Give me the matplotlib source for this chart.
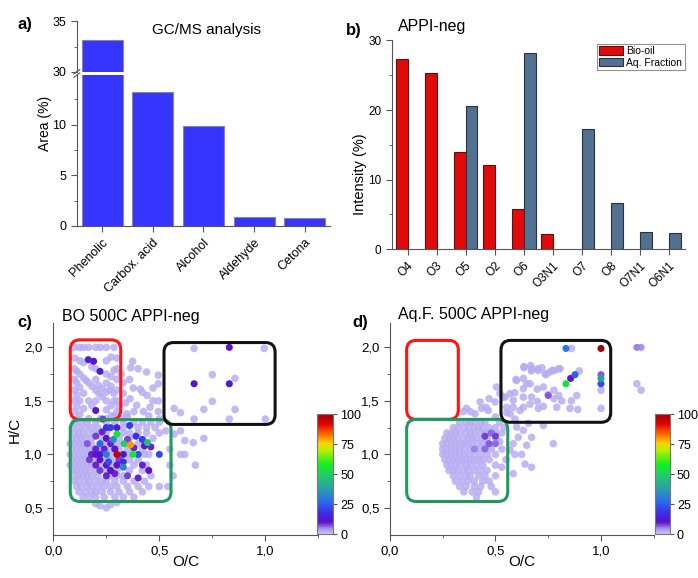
import numpy as np
import matplotlib.pyplot as plt
from matplotlib.colors import LinearSegmentedColormap, Normalize
from matplotlib.patches import FancyBboxPatch
from matplotlib.cm import ScalarMappable

plt.rcParams['font.family'] = ['Liberation Sans', 'DejaVu Sans']

# a) GC/MS
gc_groups = ['Phenolic', 'Carbox. acid', 'Alcohol', 'Aldehyde', 'Cetona']
gc_area = [33.1, 13.2, 9.9, 0.85, 0.75]

# b) APPI-neg classes
appi_classes = ['O4', 'O3', 'O5', 'O2', 'O6', 'O3N1', 'O7', 'O8', 'O7N1', 'O6N1']
bio_oil = [27.3, 25.3, 14.0, 12.1, 5.8, 2.2, 0, 0, 0, 0]
aq_fraction = [0, 0, 20.6, 0, 28.2, 0, 17.2, 6.6, 2.5, 2.3]

# c) BO 500C van Krevelen (O/C, H/C), low-intensity points
base_level = 2
bo_red_zone = [
    (0.100, 2.00), (0.125, 2.00), (0.143, 2.00), (0.167, 2.00), (0.200, 2.00), (0.222, 2.00), (0.250, 2.00), (0.286, 2.00),
    (0.100, 1.90), (0.125, 1.875), (0.143, 1.857), (0.182, 1.818), (0.250, 1.875), (0.273, 1.909), (0.300, 1.90),
    (0.100, 1.80), (0.111, 1.778), (0.125, 1.75), (0.143, 1.714), (0.154, 1.692), (0.167, 1.667), (0.182, 1.636),
    (0.200, 1.60), (0.214, 1.571), (0.231, 1.538), (0.250, 1.50),
    (0.100, 1.70), (0.111, 1.667), (0.125, 1.625), (0.143, 1.571), (0.167, 1.50), (0.182, 1.455), (0.222, 1.333),
    (0.100, 1.60), (0.111, 1.556), (0.125, 1.50), (0.143, 1.429), (0.167, 1.333),
    (0.100, 1.50), (0.111, 1.444), (0.125, 1.375), (0.100, 1.40), (0.111, 1.333),
    (0.200, 1.80), (0.250, 1.75), (0.273, 1.727), (0.300, 1.70),
    (0.200, 1.70), (0.214, 1.643), (0.231, 1.615), (0.250, 1.583), (0.267, 1.60), (0.286, 1.571), (0.300, 1.60),
    (0.250, 1.667), (0.273, 1.636), (0.286, 1.50), (0.250, 1.417), (0.273, 1.455), (0.300, 1.40), (0.250, 1.333),
    (0.286, 1.357), (0.300, 1.50), (0.200, 1.50), (0.273, 1.364), (0.286, 1.786), (0.300, 1.80),
]
bo_upper_mid = [
    (0.374, 1.87), (0.365, 1.81), (0.400, 1.80), (0.440, 1.77), (0.495, 1.74), (0.495, 1.66), (0.377, 1.62),
    (0.410, 1.61), (0.443, 1.55), (0.362, 1.52), (0.393, 1.46), (0.425, 1.40), (0.456, 1.44), (0.495, 1.50),
    (0.495, 1.40), (0.346, 1.38), (0.310, 1.45), (0.330, 1.33), (0.350, 1.35), (0.450, 1.36), (0.500, 1.33),
    (0.330, 1.67), (0.360, 1.70), (0.420, 1.58), (0.470, 1.62), (0.330, 1.57), (0.320, 1.75), (0.340, 1.48),
    (0.380, 1.40), (0.470, 1.50),
]
bo_green_zone = [
    (0.10, 1.30), (0.13, 1.30), (0.16, 1.30), (0.20, 1.30), (0.25, 1.30), (0.29, 1.30), (0.33, 1.30), (0.38, 1.30), (0.42, 1.30), (0.46, 1.30), (0.50, 1.30),
    (0.09, 1.25), (0.12, 1.25), (0.15, 1.25), (0.18, 1.25), (0.21, 1.25), (0.33, 1.25), (0.40, 1.25), (0.44, 1.25), (0.48, 1.25),
    (0.10, 1.20), (0.12, 1.20), (0.14, 1.20), (0.17, 1.20), (0.20, 1.20), (0.22, 1.20), (0.25, 1.20), (0.33, 1.20), (0.36, 1.20), (0.40, 1.20), (0.44, 1.20), (0.50, 1.20),
    (0.09, 1.15), (0.11, 1.15), (0.13, 1.15), (0.15, 1.15), (0.18, 1.15), (0.23, 1.15), (0.31, 1.15), (0.36, 1.15), (0.47, 1.15),
    (0.08, 1.10), (0.10, 1.10), (0.12, 1.10), (0.14, 1.10), (0.16, 1.10), (0.18, 1.10), (0.24, 1.10), (0.30, 1.10), (0.40, 1.10),
    (0.09, 1.05), (0.11, 1.05), (0.13, 1.05), (0.15, 1.05), (0.17, 1.05), (0.19, 1.05), (0.21, 1.05), (0.27, 1.05), (0.31, 1.05), (0.35, 1.05), (0.42, 1.05),
    (0.08, 1.00), (0.10, 1.00), (0.12, 1.00), (0.14, 1.00), (0.16, 1.00), (0.27, 1.00), (0.35, 1.00), (0.43, 1.00), (0.45, 1.00),
    (0.09, 0.95), (0.11, 0.95), (0.13, 0.95), (0.15, 0.95), (0.19, 0.95), (0.21, 0.95), (0.25, 0.95), (0.27, 0.95), (0.30, 0.95), (0.36, 0.95), (0.40, 0.95),
    (0.08, 0.90), (0.10, 0.90), (0.12, 0.90), (0.14, 0.90), (0.16, 0.90), (0.18, 0.90), (0.22, 0.90), (0.28, 0.90), (0.38, 0.90), (0.44, 0.90),
    (0.09, 0.85), (0.11, 0.85), (0.13, 0.85), (0.15, 0.85), (0.17, 0.85), (0.20, 0.85), (0.25, 0.85), (0.30, 0.85), (0.36, 0.85), (0.42, 0.85),
    (0.10, 0.80), (0.12, 0.80), (0.14, 0.80), (0.16, 0.80), (0.18, 0.80), (0.21, 0.80), (0.27, 0.80), (0.30, 0.80), (0.33, 0.80), (0.46, 0.80),
    (0.10, 0.75), (0.12, 0.75), (0.15, 0.75), (0.17, 0.75), (0.20, 0.75), (0.23, 0.75), (0.25, 0.75), (0.29, 0.75), (0.33, 0.75), (0.38, 0.75), (0.43, 0.75),
    (0.11, 0.70), (0.13, 0.70), (0.16, 0.70), (0.18, 0.70), (0.21, 0.70), (0.24, 0.70), (0.27, 0.70), (0.30, 0.70), (0.35, 0.70), (0.40, 0.70), (0.45, 0.70), (0.50, 0.70),
    (0.12, 0.65), (0.15, 0.65), (0.18, 0.65), (0.20, 0.65), (0.23, 0.65), (0.27, 0.65), (0.31, 0.65), (0.36, 0.65), (0.42, 0.65),
    (0.14, 0.60), (0.17, 0.60), (0.20, 0.60), (0.24, 0.60), (0.29, 0.60), (0.33, 0.60), (0.38, 0.60),
]
bo_outer = [
    (0.600, 1.22), (0.620, 1.13), (0.670, 0.90), (0.710, 1.15), (0.565, 0.80), (0.600, 1.00), (0.620, 1.00),
    (0.570, 1.19), (0.660, 1.11), (0.550, 1.05), (0.530, 1.22), (0.550, 0.90), (0.540, 0.70),
    (0.664, 1.99), (0.995, 1.99), (0.750, 1.745), (0.857, 1.71), (0.750, 1.495), (0.570, 1.43), (0.600, 1.39),
    (0.710, 1.42), (0.857, 1.42), (0.664, 1.33), (0.830, 1.33), (1.000, 1.33),
    (0.200, 0.54), (0.220, 0.52), (0.250, 0.50), (0.270, 0.53), (0.300, 0.55),
]
# highlighted points: (O/C, H/C, relative intensity %)
bo_hot = [
    (0.300, 1.00, 95), (0.364, 1.09, 80), (0.300, 1.19, 55), (0.333, 1.10, 50), (0.375, 1.00, 55), (0.444, 1.11, 45),
    (0.283, 1.14, 35), (0.250, 1.00, 30), (0.400, 1.00, 24), (0.500, 1.00, 22), (0.270, 1.25, 20), (0.250, 1.25, 18),
    (0.220, 1.10, 26), (0.330, 0.88, 32), (0.260, 0.93, 22), (0.330, 0.93, 18), (0.420, 1.14, 20), (0.390, 1.17, 18),
    (0.300, 1.25, 14), (0.360, 1.27, 20),
    (0.200, 1.00, 10), (0.180, 1.00, 9), (0.220, 1.00, 11), (0.200, 1.05, 9), (0.220, 0.95, 10), (0.200, 0.90, 9),
    (0.250, 0.90, 11), (0.270, 0.85, 10), (0.290, 0.82, 9), (0.250, 0.80, 9), (0.220, 0.85, 8), (0.300, 0.90, 10),
    (0.330, 1.00, 12), (0.290, 1.05, 10), (0.270, 1.10, 9), (0.250, 1.15, 10), (0.200, 1.17, 8), (0.240, 1.05, 9),
    (0.350, 0.80, 8), (0.400, 0.78, 9), (0.450, 0.85, 10), (0.420, 0.90, 9), (0.380, 1.06, 9), (0.350, 1.14, 8),
    (0.430, 1.08, 10), (0.460, 1.07, 9), (0.310, 0.95, 8), (0.170, 0.95, 8), (0.230, 1.21, 9), (0.160, 1.10, 7),
    (0.165, 1.885, 14), (0.190, 1.87, 12), (0.220, 1.776, 14), (0.200, 1.41, 10), (0.233, 1.33, 8),
    (0.830, 2.00, 10), (0.664, 1.66, 11), (0.830, 1.66, 12),
]

# d) Aq.F. 500C van Krevelen
aq_upper = [
    (0.635, 1.82), (0.667, 1.83), (0.670, 1.78), (0.700, 1.80), (0.720, 1.81), (0.740, 1.745), (0.770, 1.785), (0.800, 1.80),
    (0.597, 1.70), (0.632, 1.71), (0.664, 1.66), (0.698, 1.61), (0.727, 1.63), (0.750, 1.56), (0.777, 1.60), (0.800, 1.55), (0.777, 1.52),
    (0.545, 1.535), (0.569, 1.567), (0.592, 1.576), (0.632, 1.614), (0.632, 1.535), (0.671, 1.535), (0.698, 1.495),
    (0.727, 1.45), (0.664, 1.47), (0.632, 1.44), (0.584, 1.44), (0.553, 1.39), (0.703, 1.43), (0.790, 1.44),
    (0.814, 1.50), (0.860, 1.50), (0.853, 1.43), (0.885, 1.55), (0.890, 1.42),
    (0.897, 1.78), (0.860, 1.99), (1.000, 1.60), (1.000, 1.43), (1.170, 1.66), (1.190, 1.60),
    (0.584, 1.505), (0.616, 1.41), (0.648, 1.66), (0.671, 1.80), (0.703, 1.785), (0.735, 1.754), (0.758, 1.77),
    (0.780, 1.785), (0.806, 1.80), (0.600, 1.69), (0.635, 1.81), (0.537, 1.535), (0.553, 1.44),
]
aq_mid = [
    (0.427, 1.49), (0.470, 1.52), (0.505, 1.63), (0.434, 1.43), (0.466, 1.41), (0.498, 1.49), (0.521, 1.57),
    (0.363, 1.43), (0.380, 1.40), (0.347, 1.40), (0.403, 1.38), (0.455, 1.44), (0.569, 1.38), (0.592, 1.33),
    (0.600, 1.255), (0.632, 1.225), (0.656, 1.29), (0.671, 1.16), (0.727, 1.27), (0.774, 1.10), (0.648, 1.085),
    (0.584, 1.10), (0.569, 1.04), (0.592, 1.00), (0.624, 1.00), (0.640, 0.91), (0.671, 0.88), (0.584, 0.82),
    (0.608, 1.16), (0.500, 1.35), (0.520, 1.30), (0.530, 1.20), (0.540, 1.25), (0.530, 1.05), (0.550, 0.95),
    (0.530, 0.88), (0.520, 1.12),
]
aq_green_zone = [
    (0.33, 1.30), (0.36, 1.30), (0.38, 1.30), (0.40, 1.30), (0.43, 1.30), (0.45, 1.30),
    (0.30, 1.25), (0.32, 1.25), (0.35, 1.25), (0.375, 1.25), (0.40, 1.25), (0.42, 1.25), (0.44, 1.25), (0.47, 1.25), (0.50, 1.25),
    (0.27, 1.20), (0.29, 1.20), (0.31, 1.20), (0.33, 1.20), (0.36, 1.20), (0.38, 1.20), (0.40, 1.20), (0.43, 1.20), (0.45, 1.20), (0.47, 1.20), (0.50, 1.20),
    (0.26, 1.15), (0.28, 1.15), (0.30, 1.15), (0.32, 1.15), (0.35, 1.15), (0.37, 1.15), (0.39, 1.15), (0.41, 1.15), (0.44, 1.15), (0.46, 1.15), (0.50, 1.15),
    (0.25, 1.10), (0.27, 1.10), (0.29, 1.10), (0.31, 1.10), (0.33, 1.10), (0.35, 1.10), (0.37, 1.10), (0.39, 1.10), (0.42, 1.10), (0.44, 1.10), (0.46, 1.10),
    (0.25, 1.05), (0.27, 1.05), (0.29, 1.05), (0.31, 1.05), (0.33, 1.05), (0.35, 1.05), (0.38, 1.05), (0.42, 1.05), (0.48, 1.05),
    (0.25, 1.00), (0.27, 1.00), (0.29, 1.00), (0.31, 1.00), (0.33, 1.00), (0.35, 1.00), (0.375, 1.00), (0.40, 1.00), (0.43, 1.00), (0.46, 1.00), (0.50, 1.00),
    (0.26, 0.95), (0.28, 0.95), (0.30, 0.95), (0.32, 0.95), (0.34, 0.95), (0.36, 0.95), (0.38, 0.95), (0.40, 0.95), (0.42, 0.95), (0.44, 0.95), (0.47, 0.95),
    (0.27, 0.90), (0.29, 0.90), (0.31, 0.90), (0.33, 0.90), (0.36, 0.90), (0.38, 0.90), (0.41, 0.90), (0.44, 0.90), (0.50, 0.90),
    (0.28, 0.85), (0.30, 0.85), (0.32, 0.85), (0.35, 0.85), (0.37, 0.85), (0.40, 0.85), (0.43, 0.85), (0.46, 0.85),
    (0.30, 0.80), (0.33, 0.80), (0.36, 0.80), (0.38, 0.80), (0.42, 0.80), (0.45, 0.80), (0.50, 0.80),
    (0.31, 0.75), (0.34, 0.75), (0.37, 0.75), (0.40, 0.75), (0.44, 0.75), (0.47, 0.75),
    (0.33, 0.70), (0.36, 0.70), (0.40, 0.70), (0.43, 0.70), (0.48, 0.70),
    (0.35, 0.65), (0.39, 0.65), (0.42, 0.65), (0.50, 0.65),
    (0.41, 0.60),
]
aq_hot = [
    (0.834, 1.99, 30), (1.000, 1.99, 100), (0.834, 1.66, 55), (0.856, 1.71, 10), (0.877, 1.745, 25),
    (1.000, 1.71, 38), (1.000, 1.66, 22), (1.000, 1.745, 7), (1.170, 2.00, 5), (1.190, 2.00, 4), (0.750, 1.55, 7),
    (0.450, 1.17, 8), (0.500, 1.17, 8), (0.470, 1.10, 7), (0.450, 1.05, 6), (0.500, 1.10, 6), (0.400, 1.05, 5),
    (0.480, 1.20, 6),
]

vk_cmap = LinearSegmentedColormap.from_list('vk', [
    (0.00, '#cdc4f6'), (0.04, '#a595ed'), (0.10, '#5a10c8'), (0.18, '#3a30e8'),
    (0.27, '#2a6cf0'), (0.38, '#2aa0a8'), (0.50, '#20d060'), (0.58, '#10f020'),
    (0.70, '#b8f000'), (0.76, '#ffd000'), (0.84, '#ff6000'), (0.92, '#e00000'),
    (1.00, '#a00000')])
norm = Normalize(0, 100)

fig = plt.figure(figsize=(6.98, 5.78), dpi=100)


def style_axis(ax, size=9):
    for s in ['top', 'right']:
        ax.spines[s].set_visible(False)
    for s in ['left', 'bottom']:
        ax.spines[s].set_color('#555555')
        ax.spines[s].set_linewidth(0.8)
    ax.tick_params(direction='out', length=4, width=0.8, color='#555555', labelsize=size)
    ax.tick_params(which='minor', direction='out', length=2, width=0.6, color='#555555')


# ---- a) GC/MS analysis, broken y axis
x_gc = np.arange(1, len(gc_groups) + 1)
ax_lo = fig.add_axes([0.110, 0.609, 0.363, 0.261])
ax_hi = fig.add_axes([0.110, 0.876, 0.363, 0.087])
for ax in (ax_lo, ax_hi):
    ax.bar(x_gc, gc_area, width=0.81, color='#3535ff', edgecolor='#888888', linewidth=0.8)
    ax.set_xlim(0.5, 5.5)
    style_axis(ax)
ax_lo.set_ylim(0, 14.9)
ax_lo.set_yticks([0, 5, 10])
ax_lo.set_yticks([2.5, 7.5, 12.5], minor=True)
ax_lo.set_xticks(x_gc)
ax_lo.set_xticklabels(gc_groups, rotation=45, ha='right', rotation_mode='anchor', fontsize=9)
ax_hi.set_ylim(30, 35)
ax_hi.set_yticks([30, 35])
ax_hi.set_yticks([32.5], minor=True)
ax_hi.spines['bottom'].set_visible(False)
ax_hi.set_xticks([])
for ax, yy in ((ax_lo, 1.0), (ax_hi, 0.0)):
    ax.plot([-0.012, 0.012], [yy - 0.015 / ax.get_position().height * 0.26,
                              yy + 0.015 / ax.get_position().height * 0.26],
            transform=ax.transAxes, color='#555555', lw=0.8, clip_on=False)
fig.text(207 / 698, 1 - 30 / 578, 'GC/MS analysis', ha='center', va='center', fontsize=11)
fig.text(45 / 698, 1 - 123 / 578, 'Area (%)', rotation=90, ha='center', va='center', fontsize=10)
fig.text(17 / 698, 1 - 25 / 578, 'a)', fontsize=12, fontweight='bold', va='center')

# ---- b) APPI-neg
x_cl = np.arange(1, len(appi_classes) + 1)
bio = np.array(bio_oil)
aq = np.array(aq_fraction)
axb = fig.add_axes([0.561, 0.569, 0.420, 0.361])
m = bio > 0
axb.bar(x_cl[m] - 0.205, bio[m], width=0.41, color='#e00a0a', edgecolor='#5a1010', linewidth=0.8, label='Bio-oil')
m = aq > 0
axb.bar(x_cl[m] + 0.205, aq[m], width=0.41, color='#52708f', edgecolor='#2a3040', linewidth=0.8, label='Aq. Fraction')
axb.set_xlim(0.45, 10.55)
axb.set_ylim(0, 30)
style_axis(axb, 8.5)
axb.set_yticks([0, 10, 20, 30])
axb.set_yticks([5, 15, 25], minor=True)
axb.set_xticks(x_cl)
axb.set_xticklabels(appi_classes, rotation=45, ha='right', rotation_mode='anchor', fontsize=8.5)
leg = axb.legend(loc='upper right', bbox_to_anchor=(1.0, 0.985), fontsize=7.5, frameon=True,
                 fancybox=False, borderpad=0.25, labelspacing=0.15, handlelength=2.3,
                 handleheight=0.9, handletextpad=0.3, borderaxespad=0)
leg.get_frame().set_edgecolor('#777777')
leg.get_frame().set_linewidth(0.8)
fig.text(398 / 698, 1 - 27 / 578, 'APPI-neg', ha='left', va='center', fontsize=11.5)
fig.text(360 / 698, 1 - 174 / 578, 'Intensity (%)', rotation=90, ha='center', va='center', fontsize=10.5)
fig.text(346 / 698, 1 - 30 / 578, 'b)', fontsize=12, fontweight='bold', va='center')


# ---- c) and d) van Krevelen
def rbox(ax, x0, y0, x1, y1, color):
    ax.add_patch(FancyBboxPatch((x0, y0), x1 - x0, y1 - y0,
                                boxstyle='round,pad=0,rounding_size=0.045', mutation_aspect=2,
                                fill=False, edgecolor=color, linewidth=2.2, clip_on=False, zorder=5))


def vk_panel(rect, crect, base_groups, hot, boxes):
    ax = fig.add_axes(rect)
    pts = [p for g in base_groups for p in g]
    ax.scatter([p[0] for p in pts], [p[1] for p in pts], c=[base_level] * len(pts),
               cmap=vk_cmap, norm=norm, s=30, linewidths=0, alpha=0.85, zorder=2)
    hot_sorted = sorted(hot, key=lambda t: t[2])
    ax.scatter([p[0] for p in hot_sorted], [p[1] for p in hot_sorted], c=[p[2] for p in hot_sorted],
               cmap=vk_cmap, norm=norm, s=26, linewidths=0, zorder=3)
    for b in boxes:
        rbox(ax, *b)
    ax.set_xlim(0, 1.25)
    ax.set_ylim(0.25, 2.23)
    style_axis(ax, 9.5)
    ax.set_xticks([0, 0.5, 1.0])
    ax.set_xticklabels(['0,0', '0,5', '1,0'])
    ax.set_xticks([0.25, 0.75, 1.25], minor=True)
    ax.set_yticks([0.5, 1.0, 1.5, 2.0])
    ax.set_yticklabels(['0,5', '1,0', '1,5', '2,0'])
    ax.set_yticks([0.75, 1.25, 1.75], minor=True)
    cax = fig.add_axes(crect)
    cb = fig.colorbar(ScalarMappable(norm=norm, cmap=vk_cmap), cax=cax, ticks=[0, 25, 50, 75, 100])
    cb.outline.set_edgecolor('#777777')
    cb.outline.set_linewidth(0.8)
    cax.tick_params(direction='out', length=3, width=0.8, pad=2, color='#555555', labelsize=9)
    return ax


boxes_c = [(0.080, 1.325, 0.318, 2.070, '#ff1414'),
           (0.080, 0.560, 0.555, 1.325, '#1f9a5f'),
           (0.522, 1.280, 1.046, 2.045, '#111111')]
boxes_d = [(0.079, 1.327, 0.324, 2.065, '#ff1414'),
           (0.079, 0.560, 0.558, 1.327, '#1f9a5f'),
           (0.526, 1.300, 1.046, 2.065, '#111111')]

axc = vk_panel([0.0764, 0.075, 0.3797, 0.3666], [0.4546, 0.0761, 0.0229, 0.2076],
               [bo_red_zone, bo_upper_mid, bo_green_zone, bo_outer], bo_hot, boxes_c)
axd = vk_panel([0.5587, 0.075, 0.3779, 0.3666], [0.9384, 0.0761, 0.0215, 0.2076],
               [aq_upper, aq_mid, aq_green_zone], aq_hot, boxes_d)

fig.text(62 / 698, 1 - 317 / 578, 'BO 500C APPI-neg', ha='left', va='center', fontsize=11.5)
fig.text(398 / 698, 1 - 315 / 578, 'Aq.F. 500C APPI-neg', ha='left', va='center', fontsize=11.5)
fig.text(15 / 698, 1 - 430 / 578, 'H/C', rotation=90, ha='center', va='center', fontsize=11)
fig.text(186 / 698, 1 - 562 / 578, 'O/C', ha='center', va='center', fontsize=11)
fig.text(522 / 698, 1 - 562 / 578, 'O/C', ha='center', va='center', fontsize=11)
fig.text(17 / 698, 1 - 322 / 578, 'c)', fontsize=12, fontweight='bold', va='center')
fig.text(352 / 698, 1 - 322 / 578, 'd)', fontsize=12, fontweight='bold', va='center')

fig.savefig('out.png', dpi=100)
